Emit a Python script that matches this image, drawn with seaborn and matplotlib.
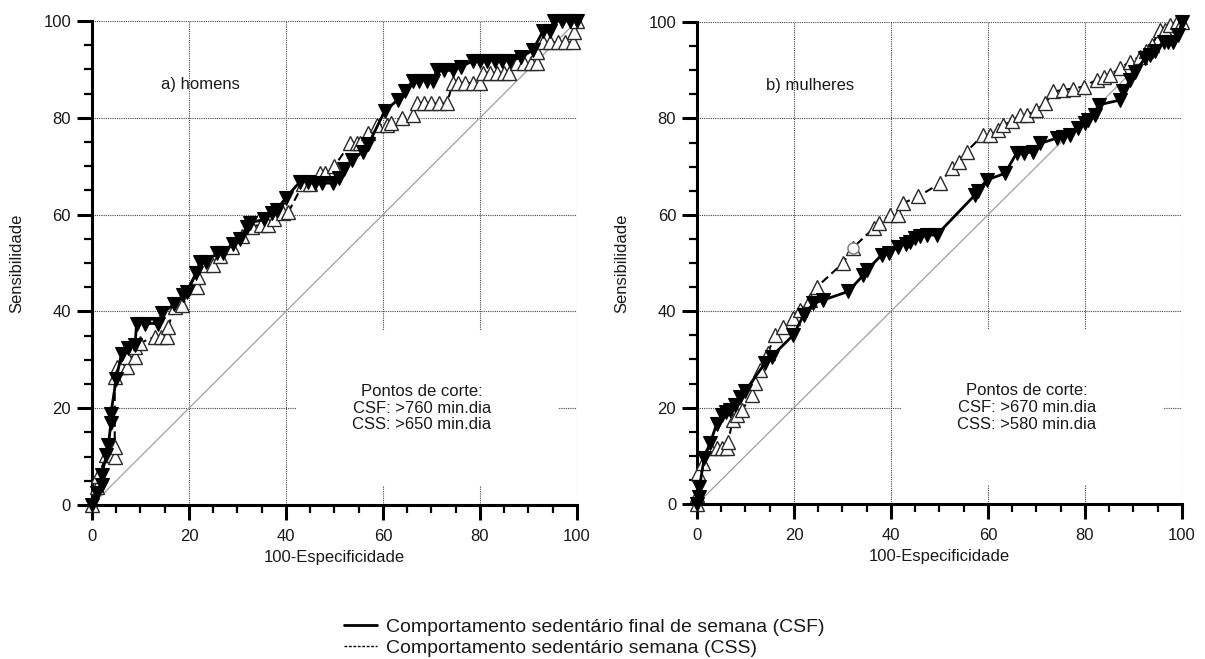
import matplotlib
matplotlib.use("Agg")
import matplotlib.pyplot as plt
from matplotlib.lines import Line2D
from matplotlib.patches import Rectangle
from matplotlib.ticker import MultipleLocator
import seaborn as sns
import pandas as pd

# ROC curve points: x = 100-Especificidade, y = Sensibilidade
csf_homens_x = [0, 1.0, 2.0, 2.0, 3.0, 3.4, 3.9, 3.9, 5.0, 6.1, 7.5, 8.9, 9.2, 11.0, 13.7, 14.4,
                17.0, 18.8, 19.5, 21.5, 22.3, 23.5, 25.8, 27.0, 29.0, 30.5, 32.0, 32.5, 35.5, 37.1,
                38.1, 40.0, 42.9, 44.5, 46.0, 47.5, 49.8, 51.0, 52.0, 53.6, 55.9, 57.0, 60.4, 63.1,
                64.5, 66.2, 67.5, 69.0, 70.3, 71.1, 72.5, 74.4, 76.0, 78.6, 80.0, 81.5, 83.0, 84.5,
                86.2, 88.5, 90.9, 93.0, 94.5, 95.2, 97.0, 98.5, 100]
csf_homens_y = [0, 2.5, 4.1, 6.2, 10.3, 12.4, 16.9, 18.9, 26.0, 31.3, 32.5, 33.1, 37.5, 37.5, 37.5, 39.6,
                41.5, 43.4, 44.0, 48.0, 50.3, 50.3, 52.0, 52.0, 54.0, 55.0, 57.5, 58.3, 59.0, 60.3,
                61.0, 63.5, 66.8, 66.8, 66.5, 66.5, 66.5, 67.5, 69.5, 71.3, 73.0, 74.5, 81.5, 83.7,
                85.5, 87.7, 87.7, 87.7, 87.7, 89.8, 89.8, 89.8, 90.5, 91.8, 91.8, 91.8, 91.8, 91.8,
                91.8, 92.5, 94.0, 97.9, 97.9, 100, 100, 100, 100]

css_homens_x = [0, 1.0, 1.3, 3.0, 4.0, 4.7, 4.7, 4.7, 5.1, 6.0, 7.2, 7.2, 8.9, 8.9, 10.0, 13.0,
                14.2, 15.4, 15.7, 17.1, 18.5, 21.6, 21.9, 23.0, 25.0, 26.5, 28.8, 31.0, 32.9, 34.8,
                36.3, 37.5, 39.4, 40.5, 43.5, 45.0, 47.0, 48.0, 50.0, 53.2, 54.6, 55.2, 56.9, 58.8,
                60.8, 61.6, 64.0, 66.2, 67.0, 68.4, 70.0, 71.5, 73.2, 74.4, 75.5, 77.0, 78.5, 80.0,
                80.6, 82.0, 83.5, 85.0, 86.0, 87.6, 89.0, 90.5, 91.8, 91.8, 93.0, 94.5, 96.0, 97.5,
                99.2, 99.4, 100]
css_homens_y = [0, 3.8, 5.9, 10.3, 10.3, 10.0, 12.0, 26.5, 28.6, 28.6, 28.6, 30.6, 30.6, 32.7, 33.5, 34.8,
                34.8, 34.8, 36.8, 41.0, 41.3, 45.1, 47.2, 49.6, 49.6, 51.5, 53.4, 55.5, 57.5, 57.9,
                57.9, 59.0, 60.3, 60.5, 66.3, 66.3, 68.5, 68.5, 70.0, 74.7, 74.7, 74.7, 76.8, 78.5,
                78.5, 78.9, 80.0, 80.6, 83.0, 83.0, 83.0, 83.0, 83.0, 87.2, 87.2, 87.2, 87.2, 87.2,
                89.3, 89.3, 89.3, 89.3, 89.3, 91.4, 91.4, 91.4, 91.4, 93.5, 95.6, 95.6, 95.6, 95.6,
                95.6, 97.7, 100]

csf_mulheres_x = [0, 0.5, 0.5, 1.5, 2.7, 4.1, 5.1, 6.0, 6.8, 7.8, 8.9, 10.0, 14.0, 15.4, 19.9, 22.0,
                  24.0, 26.0, 31.2, 34.3, 35.0, 38.1, 39.5, 41.5, 43.0, 43.9, 45.0, 46.0, 47.5, 49.4,
                  57.3, 58.0, 59.7, 63.5, 65.9, 67.5, 69.3, 70.7, 74.2, 75.5, 76.9, 78.6, 80.0, 80.7,
                  82.1, 82.8, 87.2, 87.9, 89.3, 90.3, 92.4, 93.5, 94.4, 96.2, 97.2, 98.2, 99.2, 100]
csf_mulheres_y = [0, 1.5, 3.5, 9.5, 12.6, 16.7, 18.5, 19.0, 19.5, 20.5, 22.3, 23.5, 29.2, 30.6, 35.1, 39.2,
                  41.6, 42.3, 44.1, 47.5, 48.5, 51.7, 52.0, 53.4, 54.0, 54.4, 55.2, 55.5, 55.8, 55.8,
                  64.1, 65.0, 67.2, 68.6, 72.8, 72.8, 73.1, 74.8, 75.9, 76.2, 76.6, 78.0, 79.0, 79.7,
                  80.7, 82.8, 83.8, 85.6, 88.0, 89.7, 92.5, 93.2, 93.9, 95.9, 95.9, 95.9, 97.3, 100]

css_mulheres_x = [0, 0, 0.2, 1.2, 2.7, 4.1, 5.2, 6.2, 6.4, 7.4, 8.3, 9.3, 11.3, 12.0, 13.0, 14.6,
                  16.1, 17.7, 19.8, 21.2, 23.3, 24.7, 30.1, 32.2, 36.4, 37.5, 39.8, 41.5, 42.5, 45.6,
                  50.1, 52.5, 54.0, 55.6, 59.0, 60.5, 62.0, 63.2, 65.0, 66.6, 68.0, 70.0, 71.8, 73.5,
                  75.5, 77.5, 79.7, 82.4, 84.0, 85.2, 87.2, 89.3, 91.3, 92.5, 93.8, 95.5, 96.5, 97.5,
                  99.0, 100]
css_mulheres_y = [0, 1.9, 6.4, 8.5, 11.6, 11.6, 11.6, 11.6, 12.9, 17.4, 18.5, 19.5, 22.6, 25.1, 27.8, 31.3,
                  35.0, 36.7, 38.6, 40.2, 42.3, 45.0, 50.0, 53.2, 57.2, 58.2, 60.0, 60.0, 62.4, 63.8,
                  66.5, 69.7, 71.0, 73.1, 76.6, 76.6, 77.5, 78.6, 79.5, 80.7, 80.7, 81.8, 83.1, 85.6,
                  85.9, 86.2, 86.6, 88.0, 88.5, 89.0, 90.4, 91.8, 92.8, 94.0, 95.2, 98.4, 98.4, 99.4,
                  100, 100]

# highlighted point on the CSS curve (mulheres)
css_mulheres_destaque = (32.2, 53.2)

panel_titles = ["a) homens", "b) mulheres"]
cutoff_texts = ["Pontos de corte:\nCSF: >760 min.dia\nCSS: >650 min.dia",
                "Pontos de corte:\nCSF: >670 min.dia\nCSS: >580 min.dia"]
legend_labels = ["Comportamento sedentário final de semana (CSF)",
                 "Comportamento sedentário semana (CSS)"]

sns.set_theme(style="white")
plt.rcParams["font.family"] = ["Liberation Sans", "DejaVu Sans"]
plt.rcParams["text.color"] = "#1a1a1a"

fig = plt.figure(figsize=(12.05, 6.59), dpi=100)
axes = [fig.add_axes([0.0763, 0.2337, 0.4025, 0.7344]),
        fig.add_axes([0.5784, 0.2352, 0.4025, 0.7314])]

panels = [
    (csf_homens_x, csf_homens_y, css_homens_x, css_homens_y),
    (csf_mulheres_x, csf_mulheres_y, css_mulheres_x, css_mulheres_y),
]

for i, (ax, (fx, fy, sx, sy)) in enumerate(zip(axes, panels)):
    ax.set_xlim(0, 100)
    ax.set_ylim(0, 100)
    ax.set_axisbelow(True)

    # reference diagonal
    ax.plot([0, 100], [0, 100], color="#a0a0a0", lw=0.9, zorder=2)

    css = pd.DataFrame({"x": sx, "y": sy})
    csf = pd.DataFrame({"x": fx, "y": fy})
    sns.lineplot(data=css, x="x", y="y", ax=ax, sort=False, estimator=None,
                 color="black", lw=1.5, linestyle=(0, (4, 2.2)),
                 marker="^", markersize=10, markerfacecolor="white",
                 markeredgecolor="#2a2a2a", markeredgewidth=1.0,
                 clip_on=False, zorder=3)
    sns.lineplot(data=csf, x="x", y="y", ax=ax, sort=False, estimator=None,
                 color="black", lw=2.0, marker="v", markersize=10,
                 markerfacecolor="black", markeredgecolor="black",
                 markeredgewidth=0.8, clip_on=False, zorder=4)

    if i == 1:
        ax.plot(*css_mulheres_destaque, marker="o", ms=8, mfc="white",
                mec="#777777", mew=1.0, ls="none", zorder=3.5)

    # white panel behind the cut-off note
    ax.add_patch(Rectangle((42, 4), 54, 32, facecolor="white", edgecolor="none", zorder=1))
    ax.text(68, 20, cutoff_texts[i], ha="center", va="center", fontsize=12,
            linespacing=1.15, zorder=5)
    ax.text(14.2, 86.8, panel_titles[i], ha="left", va="center", fontsize=12)

    ax.xaxis.set_major_locator(MultipleLocator(20))
    ax.yaxis.set_major_locator(MultipleLocator(20))
    ax.xaxis.set_minor_locator(MultipleLocator(5))
    ax.yaxis.set_minor_locator(MultipleLocator(5))
    ax.grid(True, which="major", linestyle=(0, (1, 1)), color="#444444", lw=0.8)
    ax.grid(False, which="minor")

    for side in ("top", "right"):
        ax.spines[side].set_visible(False)
    for side in ("left", "bottom"):
        ax.spines[side].set_color("black")
        ax.spines[side].set_linewidth(2.2)

    ax.tick_params(which="major", direction="out", length=11, width=2.2,
                   color="black", labelsize=12, labelcolor="#1a1a1a",
                   left=True, bottom=True)
    ax.tick_params(axis="x", which="major", pad=6)
    ax.tick_params(axis="y", which="major", pad=4)
    ax.tick_params(which="minor", direction="out", length=6, width=1.6,
                   color="black", left=True, bottom=True)

    ax.set_xlabel("100-Especificidade", fontsize=12, color="#1a1a1a")
    ax.set_ylabel("Sensibilidade", fontsize=12, color="#1a1a1a")
    ax.xaxis.set_label_coords(0.5, -0.093)
    ax.yaxis.set_label_coords(-0.14, 0.5)

handles = [Line2D([], [], color="black", lw=2.0),
           Line2D([], [], color="black", lw=1.0, linestyle=(0, (2, 1.2)))]
fig.legend(handles, legend_labels, loc="lower left", bbox_to_anchor=(0.284, 0.0),
           frameon=False, fontsize=14, handlelength=1.7, handletextpad=0.45,
           labelspacing=0.18, borderpad=0.1, borderaxespad=0)

fig.savefig("out.png", dpi=100, facecolor="white")
